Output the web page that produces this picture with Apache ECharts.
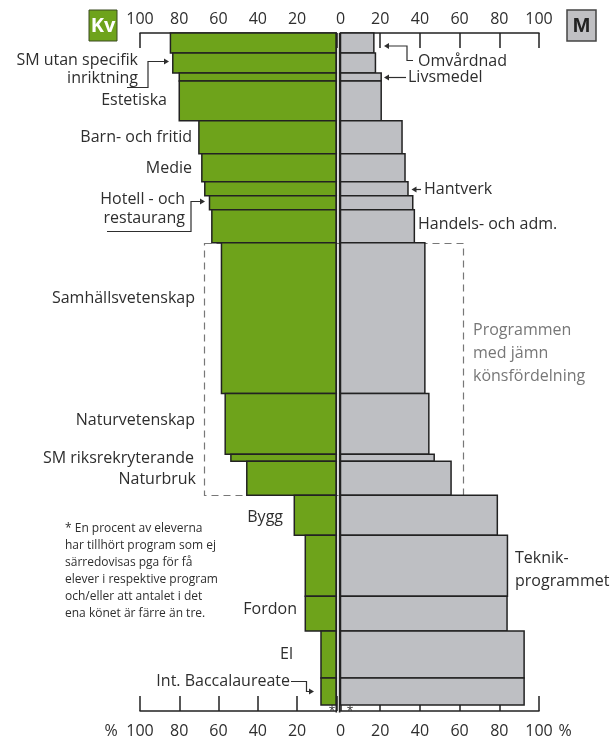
<!DOCTYPE html>
<html>
<head>
<meta charset="utf-8">
<script src="https://cdn.jsdelivr.net/npm/echarts@6/dist/echarts.min.js"></script>
<style>
html,body{margin:0;padding:0;background:#fff;}
#c{width:614px;height:739px;}
</style>
</head>
<body>
<div id="c"></div>
<script>
// ---- data ----
const programs = ['Omvårdnad','SM utan specifik inriktning','Livsmedel','Estetiska','Barn- och fritid','Medie','Hantverk','Hotell- och restaurang','Handels- och adm.','Samhällsvetenskap','Naturvetenskap','SM riksrekryterande','Naturbruk','Bygg','Teknikprogrammet','Fordon','El','Int. Baccalaureate'];
// relative number of students (bar thickness)
const students = [20,20,8,40,33,28,14,14,33,151,61,7,34,40,61,35,47,27];
const womenPct = [84.5,83.3,80,80,70,68.5,67,64.6,63.4,58.5,56.6,53.7,45.6,21.4,15.8,15.8,7.8,7.8];
const menPct   = [16.8,17.6,20.5,20.5,31,32.5,34,36.4,37.2,42.5,44.5,47.2,55.7,79,84.1,83.9,92.5,92.5];
const xTicks = [0,20,40,60,80,100];

// ---- build ----
const starts = [];
let acc = 0;
students.forEach(s => { starts.push(acc); acc += s; });
const total = acc;

const GREEN = '#6ea31b', GREY = '#bebfc3', INK = '#2e2e2e';
const FONT = '"Open Sans", "Noto Sans", sans-serif';

function axis(grid, pos, inverse, hideZero, offset){
  return {
    type:'value', gridIndex:grid, position:pos, inverse:inverse, offset:offset||0,
    min:xTicks[0], max:xTicks[xTicks.length-1], interval:20,
    axisLine:{show:true, lineStyle:{color:'#222', width:1.5}},
    axisTick:{show:true, inside:true, length:15, lineStyle:{color:'#222', width:1.5}},
    splitLine:{show:false},
    axisLabel:{color:INK, fontFamily:FONT, fontSize:16, margin: pos==='top'?6:12,
      formatter: v => (hideZero && v===0) ? '' : String(v)}
  };
}

function barRenderer(color){
  return function(params, api){
    const p0 = api.coord([0, api.value(1)]);
    const p1 = api.coord([api.value(0), api.value(2)]);
    return {
      type:'rect',
      shape:{x:Math.min(p0[0],p1[0]), y:p0[1], width:Math.abs(p1[0]-p0[0]), height:p1[1]-p0[1]},
      style:{fill:color, stroke:'#222', lineWidth:1.5}
    };
  };
}

const leftData = programs.map((p,i)=>[womenPct[i], starts[i], starts[i]+students[i], p]);
const rightData = programs.map((p,i)=>[menPct[i], starts[i], starts[i]+students[i], p]);

// ---- annotation helpers ----
function txt(t, x, y, align, color){
  return {type:'text', z:10, style:{text:t, x:x, y:y, fill:color||INK, font:'16px '+FONT, textAlign:align, textVerticalAlign:'middle'}};
}
function line(points){
  return {type:'polyline', z:10, shape:{points:points}, style:{stroke:INK, lineWidth:1.2, fill:null}};
}
function arrowHead(x, y, dir){ // dir: 1 right, -1 left
  return {type:'polygon', z:10, shape:{points:[[x,y],[x-5*dir,y-3],[x-5*dir,y+3]]}, style:{fill:INK}};
}

const graphics = [
  // legend boxes
  {type:'rect', shape:{x:89, y:10, width:28, height:31}, style:{fill:GREEN, stroke:'#3a4a20', lineWidth:1}},
  {type:'text', style:{text:'Kv', x:103, y:26, fill:'#fff', font:'bold 20px '+FONT, textAlign:'center', textVerticalAlign:'middle'}},
  {type:'rect', shape:{x:567, y:10, width:29, height:31}, style:{fill:'#c0c0c3', stroke:'#444', lineWidth:1.5}},
  {type:'text', style:{text:'M', x:581.5, y:26, fill:'#222', font:'bold 21px "Liberation Sans", Arial, sans-serif', textAlign:'center', textVerticalAlign:'middle'}},
  // central lines
  {type:'line', z:9, shape:{x1:336.3, y1:33, x2:336.3, y2:712.5}, style:{stroke:'#222', lineWidth:1.6}},
  {type:'line', z:9, shape:{x1:339.6, y1:33, x2:339.6, y2:712.5}, style:{stroke:'#222', lineWidth:1.6}},
  // dashed group box
  {type:'rect', z:1, shape:{x:204.5, y:243.5, width:259, height:252}, style:{fill:null, stroke:'#777', lineWidth:1.2, lineDash:[7,5]}},
  txt('Programmen', 473, 330, 'left', '#777'),
  txt('med jämn', 473, 353, 'left', '#777'),
  txt('könsfördelning', 473, 376, 'left', '#777'),
  // left labels
  txt('SM utan specifik', 138, 60, 'right'),
  txt('inriktning', 138, 78, 'right'),
  line([[127,87.5],[148,87.5],[148,61.5],[164,61.5]]), arrowHead(169,61.5,1),
  txt('Estetiska', 167, 100, 'right'),
  txt('Barn- och fritid', 192, 137, 'right'),
  txt('Medie', 192, 168, 'right'),
  txt('Hotell - och', 185, 199, 'right'),
  txt('restaurang', 185, 218, 'right'),
  line([[107,231.5],[191,231.5],[191,201.5],[200,201.5]]), arrowHead(205,201.5,1),
  txt('Samhällsvetenskap', 195, 298, 'right'),
  txt('Naturvetenskap', 195, 420, 'right'),
  txt('SM riksrekryterande', 194, 458, 'right'),
  txt('Naturbruk', 196, 479, 'right'),
  txt('Bygg', 283, 517, 'right'),
  txt('Fordon', 297, 609, 'right'),
  txt('El', 293, 654, 'right'),
  txt('Int. Baccalaureate', 290, 681, 'right'),
  line([[291,681.5],[306.5,681.5],[306.5,691.5],[310,691.5]]), arrowHead(314,691.5,1),
  // right labels
  line([[413,60.5],[407,60.5],[407,46],[389,46]]), arrowHead(384,46,-1),
  txt('Omvårdnad', 418, 61, 'left'),
  line([[406,77.5],[389,77.5]]), arrowHead(384,77.5,-1),
  txt('Livsmedel', 408, 77, 'left'),
  line([[421,189.5],[416,189.5]]), arrowHead(411.5,189.5,-1),
  txt('Hantverk', 424, 189, 'left'),
  txt('Handels- och adm.', 418, 224, 'left'),
  txt('Teknik-', 515, 558, 'left'),
  txt('programmet', 515, 581, 'left'),
  // percent signs
  txt('%', 111, 731, 'center'),
  txt('%', 565, 731, 'center'),
  // asterisks
  {type:'text', z:10, style:{text:'*', x:332, y:712, fill:INK, font:'12px '+FONT, textAlign:'center', textVerticalAlign:'middle'}},
  {type:'text', z:10, style:{text:'*', x:350, y:712, fill:INK, font:'12px '+FONT, textAlign:'center', textVerticalAlign:'middle'}},
  // footnote
  {type:'text', z:10, style:{text:'* En procent av eleverna\nhar tillhört program som ej\nsärredovisas pga för få\nelever i respektive program\noch/eller att antalet i det\nena könet är färre än tre.',
    x:65, y:520, fill:INK, font:'12px '+FONT, lineHeight:17, textAlign:'left', textVerticalAlign:'top'}}
];

const chart = echarts.init(document.getElementById('c'), null, {renderer:'canvas'});
chart.setOption({
  animation:false,
  backgroundColor:'#fff',
  grid:[
    {left:140, top:33, width:196.3, height:673},
    {left:340.5, top:33, width:198.5, height:673}
  ],
  xAxis:[
    axis(0,'top',true,true,0),
    axis(0,'bottom',true,true,6),
    axis(1,'top',false,false,0),
    axis(1,'bottom',false,false,6)
  ],
  yAxis:[
    {type:'value', gridIndex:0, min:0, max:total, inverse:true, show:false},
    {type:'value', gridIndex:1, min:0, max:total, inverse:true, show:false}
  ],
  series:[
    {type:'custom', name:'Kv', xAxisIndex:0, yAxisIndex:0, data:leftData, encode:{x:0, y:[1,2]}, renderItem:barRenderer(GREEN), z:3},
    {type:'custom', name:'M', xAxisIndex:2, yAxisIndex:1, data:rightData, encode:{x:0, y:[1,2]}, renderItem:barRenderer(GREY), z:3}
  ],
  graphic:graphics
});
</script>
</body>
</html>
